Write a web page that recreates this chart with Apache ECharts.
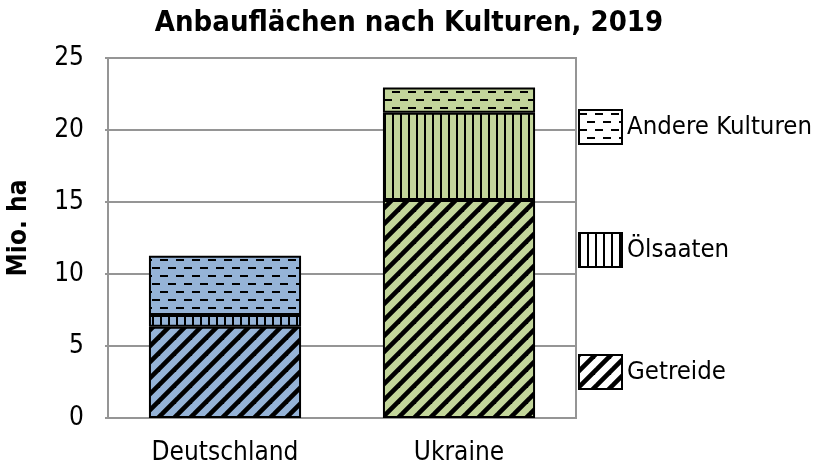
<!DOCTYPE html>
<html>
<head>
<meta charset="utf-8">
<script src="https://cdn.jsdelivr.net/npm/echarts@6/dist/echarts.min.js"></script>
<style>
html,body{margin:0;padding:0;background:#fff;}
#chart{width:818px;height:466px;}
</style>
</head>
<body>
<div id="chart"></div>
<script>
const categories = ['Deutschland', 'Ukraine'];
const getreide = [6.34, 15.14];
const oelsaaten = [0.81, 6.06];
const andere = [4.12, 1.76];
const yTicks = [0, 5, 10, 15, 20, 25];
const seriesNames = ['Getreide', 'Ölsaaten', 'Andere Kulturen'];
const barColors = ['#95b3d7', '#c3d69b'];

const FONT = "'DejaVu Sans Condensed', 'Liberation Sans', sans-serif";

function makePattern(type, bg) {
  const c = document.createElement('canvas');
  const ctx = c.getContext('2d');
  if (type === 'diag') {
    c.width = 16; c.height = 16;
    ctx.fillStyle = bg; ctx.fillRect(0, 0, 16, 16);
    ctx.strokeStyle = '#000'; ctx.lineWidth = 4.6;
    for (const k of [-16, 0, 16]) {
      ctx.beginPath(); ctx.moveTo(k - 2, 18); ctx.lineTo(k + 18, -2); ctx.stroke();
    }
  } else if (type === 'vert') {
    c.width = 8; c.height = 8;
    ctx.fillStyle = bg; ctx.fillRect(0, 0, 8, 8);
    ctx.fillStyle = '#000'; ctx.fillRect(0, 0, 2, 8);
  } else {
    c.width = 16; c.height = 16;
    ctx.fillStyle = bg; ctx.fillRect(0, 0, 16, 16);
    ctx.fillStyle = '#000';
    ctx.fillRect(0, 3, 8, 2);
    ctx.fillRect(8, 11, 8, 2);
  }
  return { image: c, repeat: 'repeat' };
}

const types = ['diag', 'vert', 'dash'];
const values = [getreide, oelsaaten, andere];

const series = seriesNames.map((name, si) => ({
  name: name,
  type: 'bar',
  stack: 'total',
  barCategoryGap: '35%',
  itemStyle: { color: makePattern(types[si], '#ffffff'), borderColor: '#000', borderWidth: 2 },
  emphasis: { disabled: true },
  data: values[si].map((v, ci) => ({
    value: v,
    itemStyle: { color: makePattern(types[si], barColors[ci]), borderColor: '#000', borderWidth: 2 }
  }))
}));

const legendTops = [354, 232, 109];
const legends = seriesNames.map((name, i) => ({
  data: [name],
  orient: 'vertical',
  left: 578,
  top: legendTops[i],
  padding: 0,
  itemWidth: 43,
  itemHeight: 34,
  icon: 'rect',
  selectedMode: false,
  itemStyle: { borderColor: '#000', borderWidth: 2 },
  textStyle: { fontSize: 25.5, color: '#000', fontFamily: FONT }
}));

const chart = echarts.init(document.getElementById('chart'), null, { renderer: 'canvas' });
chart.setOption({
  animation: false,
  title: {
    text: 'Anbauflächen nach Kulturen, 2019',
    left: 'center',
    top: 4,
    textStyle: { fontSize: 29, fontWeight: 'bold', color: '#000', fontFamily: FONT }
  },
  legend: legends,
  grid: {
    left: 108, right: 242, top: 58, bottom: 48,
    outerBoundsMode: 'none',
    containLabel: false,
    show: true, borderColor: '#959595', borderWidth: 2
  },
  xAxis: {
    type: 'category',
    data: categories,
    axisLine: { lineStyle: { color: '#959595', width: 2 } },
    axisTick: { show: false },
    axisLabel: { fontSize: 26, color: '#000', fontFamily: FONT, margin: 22 }
  },
  yAxis: {
    type: 'value',
    min: 0, max: 25, interval: 5,
    axisLine: { show: true, lineStyle: { color: '#959595', width: 2 } },
    axisTick: { show: true, length: 3, lineStyle: { color: '#959595', width: 2 } },
    splitLine: { lineStyle: { color: '#959595', width: 2 } },
    axisLabel: {
      fontSize: 26, color: '#000', fontFamily: FONT, margin: 24,
      formatter: v => yTicks.includes(v) ? String(v) : ''
    }
  },
  graphic: [{
    type: 'text',
    x: 19, y: 228,
    rotation: Math.PI / 2,
    style: {
      text: 'Mio. ha',
      font: "bold 26px " + FONT,
      fill: '#000',
      align: 'center',
      verticalAlign: 'middle'
    }
  }],
  series: series
});
</script>
</body>
</html>
